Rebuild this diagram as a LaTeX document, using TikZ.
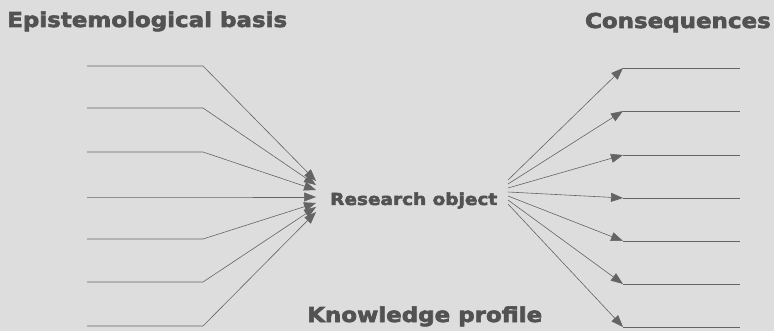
\documentclass[tikz,border=0pt]{standalone}
\usepackage{fontspec}
\setmainfont{DejaVu Sans}
\newfontfamily\heavyfont[FakeStretch=1.12, FakeBold=3]{DejaVu Sans Bold}
\usetikzlibrary{arrows.meta, positioning, calc}
\definecolor{bgGray}{RGB}{221,221,221}
\definecolor{inkGray}{RGB}{82,82,82}
\definecolor{lineGray}{RGB}{100,100,100}

\begin{document}
\begin{tikzpicture}[x=1pt, y=-1pt,
    title/.style={font=\heavyfont\fontsize{20.5}{22}\selectfont, text=inkGray, inner sep=0pt},
    label/.style={font=\heavyfont\fontsize{16.5}{18}\selectfont, text=inkGray, inner sep=0pt},
    link/.style={lineGray, line width=0.6pt},
    tip/.style={-{Triangle[length=12pt, width=9pt]}}]
  \fill[bgGray] (0,0) rectangle (774,331);
  \useasboundingbox (0,0) rectangle (774,331);
  % headings
  \node[title, anchor=base west] (epi) at (7,27) {Epistemological basis};
  \node[title, anchor=base east] (cons) at (771,28) {Consequences};
  \node[title, anchor=base west] (prof) at (307,322) {Knowledge profile};
  \node[label, anchor=base west] (obj) at (330,205) {Research object};
  % left side: blanks leading into the object
  \foreach \y/\t [count=\i] in {66/181,108/185,152/190,197/197,239/203,282/207,326/212}{
    \coordinate (l\i a) at (87,\y);
    \coordinate (l\i b) at (203,\y);
    \coordinate (l\i t) at (316,\t);
    \draw[link, tip] (l\i a) -- (l\i b) -- (l\i t);
  }
  % right side: object leading to consequences
  \foreach \y/\o [count=\i] in {68/180,111/184,155/188,198/192,241/196,284/200,327/204}{
    \coordinate (r\i o) at (508,\o);
    \coordinate (r\i a) at (623,\y);
    \coordinate (r\i b) at (740,\y);
    \draw[link, tip] (r\i o) -- (r\i a);
    \draw[link] (r\i a) -- (r\i b);
  }
\end{tikzpicture}
\end{document}
